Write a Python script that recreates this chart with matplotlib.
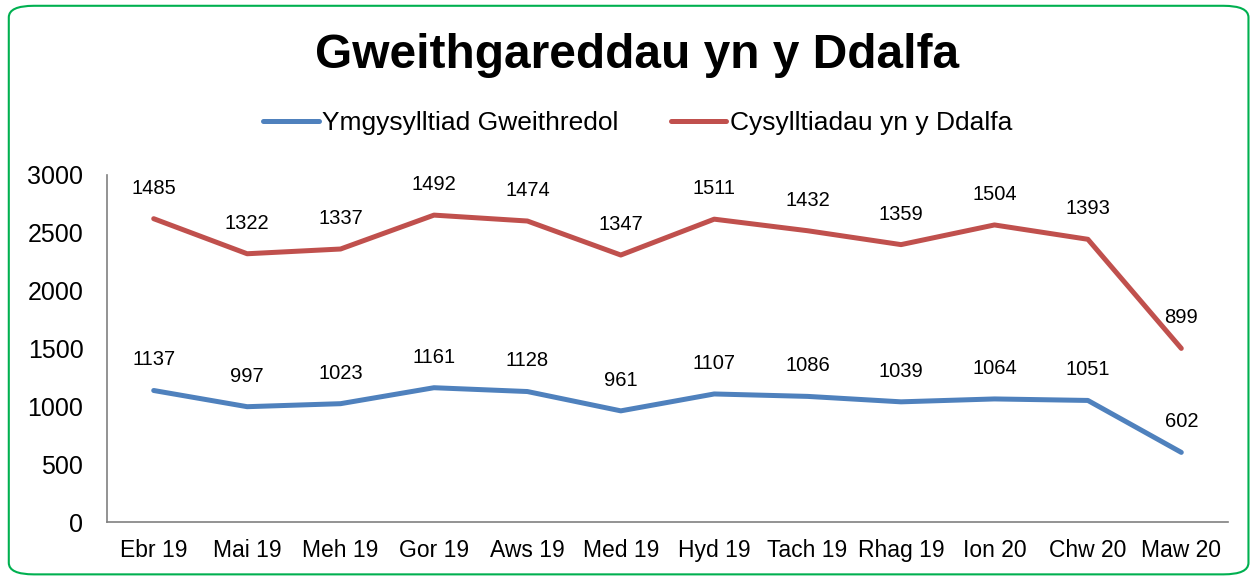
import numpy as np
import matplotlib.pyplot as plt
from matplotlib.patches import FancyBboxPatch

plt.rcParams['font.family'] = ['Liberation Sans', 'DejaVu Sans']

months = ['Ebr 19', 'Mai 19', 'Meh 19', 'Gor 19', 'Aws 19', 'Med 19',
          'Hyd 19', 'Tach 19', 'Rhag 19', 'Ion 20', 'Chw 20', 'Maw 20']
ymgysylltiad = [1137, 997, 1023, 1161, 1128, 961, 1107, 1086, 1039, 1064, 1051, 602]
cysylltiadau = [1485, 1322, 1337, 1492, 1474, 1347, 1511, 1432, 1359, 1504, 1393, 899]

blue = '#4F81BD'
red = '#C0504D'

fig = plt.figure(figsize=(12.56, 5.79), dpi=100)
ax = fig.add_axes([0.0852, 0.0984, 0.8925, 0.5994])

x = np.arange(len(months))
# stacked lines: second series sits on top of the first
stacked = np.array(ymgysylltiad) + np.array(cysylltiadau)

ax.plot(x, ymgysylltiad, color=blue, lw=3.6, solid_capstyle='round',
        label='Ymgysylltiad Gweithredol')
ax.plot(x, stacked, color=red, lw=3.6, solid_capstyle='round',
        label='Cysylltiadau yn y Ddalfa')

for i in x:
    ax.annotate(str(ymgysylltiad[i]), (i, ymgysylltiad[i]), xytext=(0, 22),
                textcoords='offset points', ha='center', va='center', fontsize=14.5)
    ax.annotate(str(cysylltiadau[i]), (i, stacked[i]), xytext=(0, 22),
                textcoords='offset points', ha='center', va='center', fontsize=14.5)

ax.set_xlim(-0.5, len(months) - 0.5)
ax.set_ylim(0, 3000)
ax.set_yticks(range(0, 3001, 500))
ax.set_xticks(x)
ax.set_xticklabels(months)
ax.tick_params(axis='y', length=0, pad=17, labelsize=18)
ax.tick_params(axis='x', length=0, pad=12, labelsize=16.5)
for s in ['top', 'right']:
    ax.spines[s].set_visible(False)
for s in ['left', 'bottom']:
    ax.spines[s].set_color('#808080')
    ax.spines[s].set_linewidth(1.2)

fig.text(0.507, 0.905, 'Gweithgareddau yn y Ddalfa', ha='center', va='center',
         fontsize=34.5, fontweight='bold')

fig.legend(loc='center', bbox_to_anchor=(0.5076, 0.787), ncol=2, frameon=False,
           fontsize=19, handlelength=2.1, handletextpad=0.12, columnspacing=2.0)

border = FancyBboxPatch((0.007, 0.008), 0.987, 0.982, transform=fig.transFigure,
                        boxstyle='round,pad=0,rounding_size=0.02',
                        fill=False, edgecolor='#00B050', lw=1.5)
fig.patches.append(border)

fig.savefig('out.png', dpi=100)
